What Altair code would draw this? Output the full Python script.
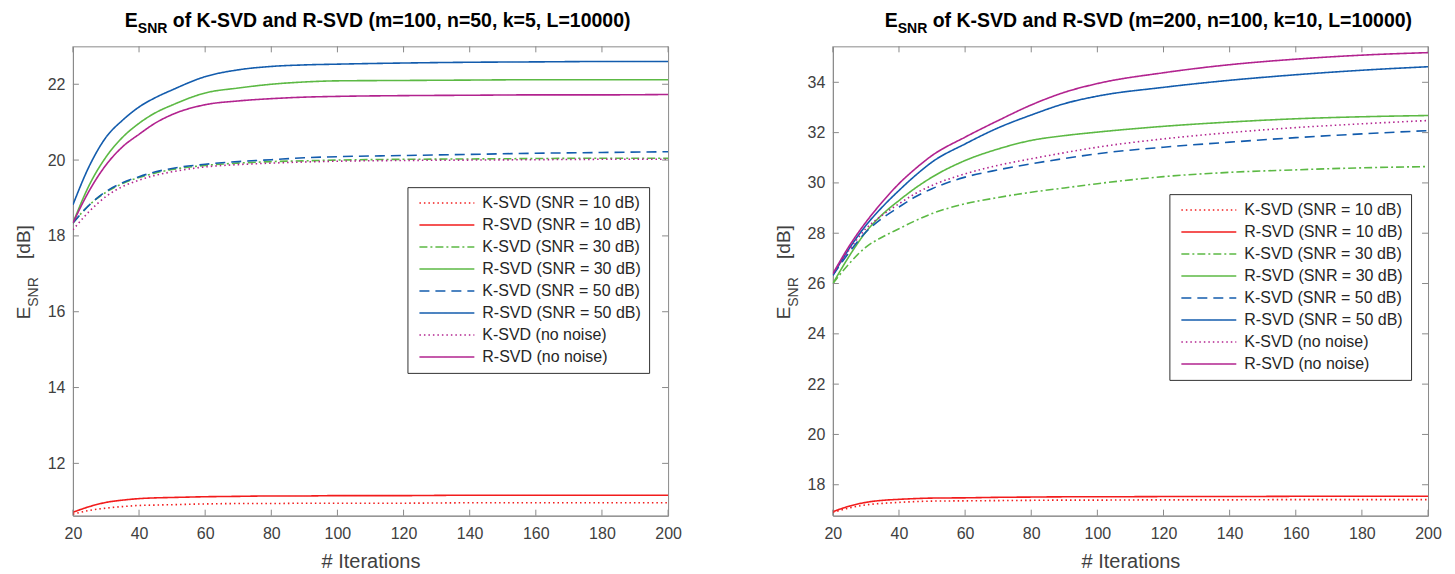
import altair as alt
import pandas as pd

ITER = [20, 25, 30, 35, 40, 45, 50, 60, 70, 80, 90, 100, 120, 140, 160, 180, 200]

SERIES = ["K-SVD (SNR = 10 dB)", "R-SVD (SNR = 10 dB)",
          "K-SVD (SNR = 30 dB)", "R-SVD (SNR = 30 dB)",
          "K-SVD (SNR = 50 dB)", "R-SVD (SNR = 50 dB)",
          "K-SVD (no noise)", "R-SVD (no noise)"]
COLORS = ["#f21c1c", "#f21c1c", "#5cb944", "#5cb944",
          "#135cad", "#135cad", "#b2238f", "#b2238f"]
DASHES = [[1.5, 3], [1, 0], [8, 3, 2, 3], [1, 0],
          [10, 6], [1, 0], [1.5, 3], [1, 0]]

# Left panel: m=100, n=50, k=5
A_K10 = [10.66, 10.76, 10.82, 10.86, 10.89, 10.90, 10.91, 10.93, 10.94, 10.94, 10.95, 10.95, 10.95, 10.96, 10.96, 10.96, 10.96]
A_R10 = [10.71, 10.86, 10.97, 11.03, 11.07, 11.09, 11.10, 11.12, 11.13, 11.14, 11.14, 11.15, 11.15, 11.16, 11.16, 11.16, 11.16]
A_K30 = [18.34, 18.82, 19.15, 19.38, 19.54, 19.66, 19.75, 19.86, 19.92, 19.96, 19.98, 20.00, 20.02, 20.03, 20.04, 20.05, 20.05]
A_R30 = [18.34, 19.35, 20.08, 20.60, 20.97, 21.25, 21.45, 21.77, 21.90, 22.00, 22.06, 22.09, 22.10, 22.11, 22.12, 22.12, 22.12]
A_K50 = [18.34, 18.82, 19.17, 19.40, 19.56, 19.69, 19.78, 19.89, 19.96, 20.01, 20.06, 20.09, 20.12, 20.15, 20.18, 20.20, 20.22]
A_R50 = [18.82, 19.85, 20.60, 21.05, 21.40, 21.65, 21.85, 22.20, 22.38, 22.47, 22.51, 22.53, 22.56, 22.58, 22.59, 22.60, 22.60]
A_KNN = [18.16, 18.65, 19.04, 19.30, 19.47, 19.60, 19.69, 19.82, 19.88, 19.92, 19.95, 19.97, 19.99, 20.00, 20.01, 20.02, 20.02]
A_RNN = [18.34, 19.20, 19.87, 20.35, 20.68, 20.98, 21.20, 21.46, 21.56, 21.62, 21.66, 21.68, 21.70, 21.71, 21.72, 21.72, 21.73]

# Right panel: m=200, n=100, k=10
B_K10 = [16.90, 17.08, 17.20, 17.26, 17.30, 17.33, 17.35, 17.36, 17.37, 17.38, 17.39, 17.39, 17.40, 17.40, 17.41, 17.41, 17.41]
B_R10 = [16.93, 17.15, 17.30, 17.38, 17.42, 17.45, 17.47, 17.48, 17.50, 17.51, 17.52, 17.52, 17.53, 17.53, 17.54, 17.54, 17.54]
B_K30 = [26.00, 26.80, 27.45, 27.85, 28.18, 28.50, 28.78, 29.17, 29.42, 29.63, 29.80, 29.97, 30.25, 30.42, 30.52, 30.60, 30.65]
B_R30 = [26.00, 27.10, 28.05, 28.75, 29.30, 29.80, 30.23, 30.89, 31.35, 31.69, 31.88, 32.02, 32.25, 32.42, 32.55, 32.63, 32.68]
B_K50 = [26.33, 27.25, 28.05, 28.60, 29.04, 29.45, 29.77, 30.23, 30.52, 30.76, 30.97, 31.16, 31.42, 31.62, 31.80, 31.95, 32.08]
B_R50 = [26.33, 27.40, 28.31, 29.05, 29.70, 30.30, 30.83, 31.55, 32.19, 32.70, 33.15, 33.45, 33.80, 34.08, 34.30, 34.48, 34.62]
B_KNN = [26.39, 27.35, 28.18, 28.72, 29.17, 29.58, 29.90, 30.36, 30.70, 30.96, 31.20, 31.42, 31.75, 32.00, 32.20, 32.35, 32.48]
B_RNN = [26.39, 27.50, 28.44, 29.25, 29.97, 30.57, 31.09, 31.82, 32.48, 33.10, 33.60, 33.95, 34.38, 34.70, 34.92, 35.08, 35.18]

X_TICKS = [20, 40, 60, 80, 100, 120, 140, 160, 180, 200]
A_YTICKS = [12, 14, 16, 18, 20, 22]
B_YTICKS = [18, 20, 22, 24, 26, 28, 30, 32, 34]
A_YDOM = [10.62, 23.0]
B_YDOM = [16.77, 35.43]
A_TITLE = "of K-SVD and R-SVD (m=100, n=50, k=5, L=10000)"
B_TITLE = "of K-SVD and R-SVD (m=200, n=100, k=10, L=10000)"

W, H = 596, 470
FONT = "Liberation Sans"
GRAY = "#8a8a8a"
TXT = "#404040"


def panel(series_vals, ydom, yticks, title_main, legend_x, legend_y, title_x):
    rows = []
    for name, vals in zip(SERIES, series_vals):
        for it, v in zip(ITER, vals):
            rows.append({"it": it, "val": v, "series": name})
    df = pd.DataFrame(rows)
    xs = alt.Scale(domain=[20, 200], nice=False, zero=False)
    ys = alt.Scale(domain=ydom, nice=False, zero=False)
    legend = alt.Legend(title=None, orient="none", legendX=legend_x, legendY=legend_y,
                        symbolType="stroke", symbolSize=3025, symbolStrokeWidth=1.5,
                        symbolOffset=3, clipHeight=16, rowPadding=6, padding=8,
                        labelFontSize=16, labelFont=FONT, labelColor="#262626",
                        strokeColor="#303030", fillColor="white", labelOffset=7,
                        labelLimit=300, cornerRadius=0)
    lines = alt.Chart(df).mark_line(strokeWidth=1.6, clip=True, interpolate="monotone").encode(
        x=alt.X("it:Q", scale=xs, axis=alt.Axis(title="# Iterations", values=X_TICKS,
                                                 labelPadding=10, titlePadding=10,
                                                 labelFlush=False)),
        y=alt.Y("val:Q", scale=ys, axis=alt.Axis(title=None, values=yticks, labelPadding=8,
                                                  labelFlush=False)),
        color=alt.Color("series:N", scale=alt.Scale(domain=SERIES, range=COLORS), legend=legend),
        strokeDash=alt.StrokeDash("series:N", scale=alt.Scale(domain=SERIES, range=DASHES), legend=legend),
    )

    xt = pd.DataFrame({"x": X_TICKS})
    yt = pd.DataFrame({"y": yticks})
    tb = alt.Chart(xt).mark_rule(color=GRAY, strokeWidth=1).encode(
        x=alt.X("x:Q", scale=xs), y=alt.value(H), y2=alt.value(H - 6))
    tt = alt.Chart(xt).mark_rule(color=GRAY, strokeWidth=1).encode(
        x=alt.X("x:Q", scale=xs), y=alt.value(0), y2=alt.value(6))
    tl = alt.Chart(yt).mark_rule(color=GRAY, strokeWidth=1).encode(
        y=alt.Y("y:Q", scale=ys), x=alt.value(0), x2=alt.value(6))
    tr = alt.Chart(yt).mark_rule(color=GRAY, strokeWidth=1).encode(
        y=alt.Y("y:Q", scale=ys), x=alt.value(W - 6), x2=alt.value(W))

    one = pd.DataFrame({"a": [0]})
    t_e = alt.Chart(one).mark_text(text="E", font=FONT, fontSize=19.5, fontWeight="bold",
                                   align="left", baseline="alphabetic", color="black").encode(
        x=alt.value(title_x), y=alt.value(-19))
    t_s = alt.Chart(one).mark_text(text="SNR", font=FONT, fontSize=14, fontWeight="bold",
                                   align="left", baseline="alphabetic", color="black").encode(
        x=alt.value(title_x + 13), y=alt.value(-13))
    t_m = alt.Chart(one).mark_text(text=title_main, font=FONT, fontSize=19.5, fontWeight="bold",
                                   align="left", baseline="alphabetic", color="black").encode(
        x=alt.value(title_x + 48), y=alt.value(-19))

    y_e = alt.Chart(one).mark_text(text="E", font=FONT, fontSize=19, angle=270,
                                   align="center", baseline="alphabetic", color=TXT).encode(
        x=alt.value(-43), y=alt.value(267))
    y_s = alt.Chart(one).mark_text(text="SNR", font=FONT, fontSize=14, angle=270,
                                   align="center", baseline="alphabetic", color=TXT).encode(
        x=alt.value(-35), y=alt.value(246))
    y_d = alt.Chart(one).mark_text(text="[dB]", font=FONT, fontSize=19, angle=270,
                                   align="center", baseline="alphabetic", color=TXT).encode(
        x=alt.value(-43), y=alt.value(196))

    return alt.layer(lines, tb, tt, tl, tr, t_e, t_s, t_m, y_e, y_s, y_d).properties(width=W, height=H)


left = panel([A_K10, A_R10, A_K30, A_R30, A_K50, A_R50, A_KNN, A_RNN],
             A_YDOM, A_YTICKS, A_TITLE, 335, 141, 52)
right = panel([B_K10, B_R10, B_K30, B_R30, B_K50, B_R50, B_KNN, B_RNN],
              B_YDOM, B_YTICKS, B_TITLE, 337, 148, 52)

chart = alt.hconcat(left, right, spacing=92).resolve_scale(
    y="independent", x="independent"
).resolve_legend(color="independent", strokeDash="independent").properties(
    padding={"left": 6, "top": 2, "right": 5, "bottom": 0}
).configure_view(
    stroke=GRAY, strokeWidth=1
).configure_axis(
    labelFont=FONT, labelFontSize=16, labelColor=TXT, domainColor=GRAY, ticks=False,
    grid=False, titleFont=FONT, titleFontSize=20, titleColor=TXT, titleFontWeight="normal"
)

chart.save("out.html", embed_options={"renderer": "svg", "actions": False})
